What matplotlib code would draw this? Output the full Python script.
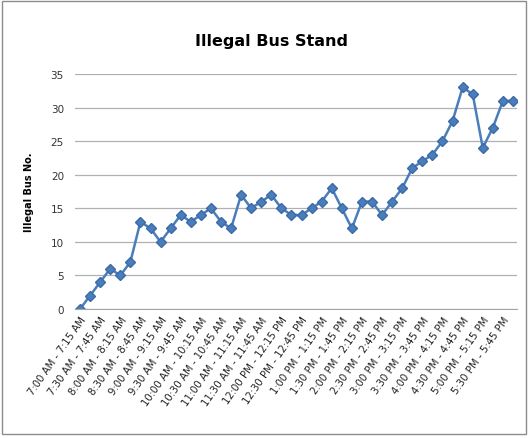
import matplotlib
matplotlib.use("Agg")
import matplotlib.pyplot as plt
from matplotlib.patches import Rectangle

# Counts of illegally parked buses per 15-minute slot
counts = [0, 2, 4, 6, 5, 7, 13, 12, 10, 12, 14, 13, 14, 15, 13, 12, 17, 15, 16, 17, 15, 14,
          14, 15, 16, 18, 15, 12, 16, 16, 14, 16, 18, 21, 22, 23, 25, 28, 33, 32, 24, 27, 31, 31]

tick_labels = ["7:00 AM - 7:15 AM", "7:30 AM - 7:45 AM", "8:00 AM - 8:15 AM", "8:30 AM - 8:45 AM",
               "9:00 AM - 9:15 AM", "9:30 AM - 9:45 AM", "10:00 AM - 10:15 AM", "10:30 AM - 10:45 AM",
               "11:00 AM - 11:15 AM", "11:30 AM - 11:45 AM", "12:00 PM - 12:15 PM", "12:30 PM - 12:45 PM",
               "1:00 PM - 1:15 PM", "1:30 PM - 1:45 PM", "2:00 PM - 2:15 PM", "2:30 PM - 2:45 PM",
               "3:00 PM - 3:15 PM", "3:30 PM - 3:45 PM", "4:00 PM - 4:15 PM", "4:30 PM - 4:45 PM",
               "5:00 PM - 5:15 PM", "5:30 PM - 5:45 PM"]

fig = plt.figure(figsize=(5.28, 4.39), dpi=100)
ax = fig.add_axes([75 / 528, 1 - 310 / 439, 442 / 528, 235 / 439])

x = list(range(len(counts)))
ax.plot(x, counts, color="#4A7EBB", linewidth=1.8, marker="D", markersize=5,
        markerfacecolor="#4A7EBB", markeredgecolor="#3C6AA8")

ax.set_ylim(0, 35)
ax.set_yticks(range(0, 36, 5))
ax.set_xlim(-0.5, 43.4)
ax.set_xticks(x[::2])
ax.set_xticklabels(tick_labels, rotation=55, ha="right", rotation_mode="anchor", fontsize=7.3)
ax.tick_params(axis="y", labelsize=7.5, length=0, pad=8, labelcolor="#333333")
ax.tick_params(axis="x", length=0, pad=4, labelcolor="#222222")

ax.grid(axis="y", color="#B0B0B0", linewidth=0.9)
ax.set_axisbelow(True)
for side in ["top", "right", "left"]:
    ax.spines[side].set_visible(False)
ax.spines["bottom"].set_color("#A6A6A6")

ax.set_ylabel("Illegal Bus No.", fontsize=7, fontweight="bold", labelpad=12)
fig.text(0.515, 0.895, "Illegal Bus Stand", ha="center", fontsize=11.5, fontweight="bold")

# outer frame around the chart area
fig.patches.append(Rectangle((0.003, 0.01), 0.994, 0.985, transform=fig.transFigure,
                             fill=False, edgecolor="#8C8C8C", linewidth=1))

fig.savefig("out.png", dpi=100)
